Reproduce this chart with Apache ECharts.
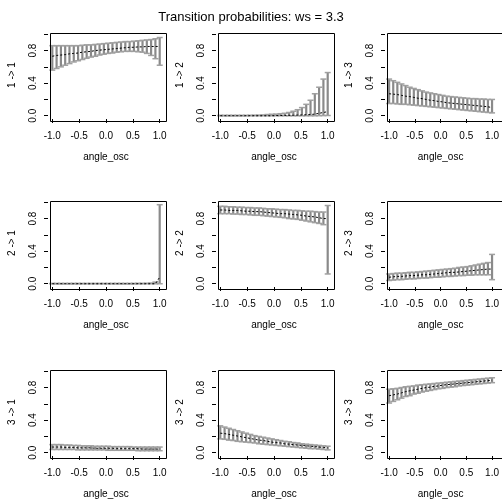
<!DOCTYPE html>
<html>
<head>
<meta charset="utf-8">
<script src="https://cdn.jsdelivr.net/npm/echarts@6/dist/echarts.min.js"></script>
<style>
html,body{margin:0;padding:0;background:#fff;}
#chart{width:502px;height:500px;}
</style>
</head>
<body>
<div id="chart"></div>
<script>
const title = 'Transition probabilities: ws = 3.3';
const xName = 'angle_osc';
const angle = [-1.00,-0.92,-0.84,-0.76,-0.68,-0.60,-0.52,-0.44,-0.36,-0.28,-0.20,-0.12,-0.04,0.04,0.12,0.20,0.28,0.36,0.44,0.52,0.60,0.68,0.76,0.84,0.92,1.00];
const xTicks = [-1.0,-0.5,0.0,0.5,1.0];
const yTicks = [0.0,0.2,0.4,0.6,0.8,1.0];
const yLabels = [0.0,0.4,0.8];

// 1 -> 1
const mean11 = [0.73,0.74,0.745,0.75,0.76,0.765,0.77,0.78,0.785,0.79,0.80,0.805,0.81,0.815,0.82,0.825,0.83,0.835,0.84,0.84,0.845,0.845,0.85,0.85,0.85,0.85];
const lo11 = [0.56,0.58,0.60,0.62,0.64,0.66,0.675,0.69,0.705,0.72,0.73,0.745,0.755,0.765,0.77,0.78,0.785,0.79,0.79,0.79,0.785,0.78,0.765,0.74,0.70,0.62];
const hi11 = [0.86,0.86,0.86,0.86,0.86,0.86,0.86,0.865,0.87,0.87,0.875,0.88,0.885,0.89,0.895,0.90,0.905,0.91,0.91,0.915,0.92,0.925,0.93,0.935,0.945,0.96];
// 1 -> 2
const mean12 = [0,0,0,0,0,0,0,0,0,0,0,0,0,0.002,0.003,0.004,0.005,0.006,0.008,0.01,0.012,0.015,0.02,0.03,0.04,0.05];
const lo12 = [0,0,0,0,0,0,0,0,0,0,0,0,0,0,0,0,0,0,0,0,0,0,0,0.001,0.002,0.003];
const hi12 = [0.005,0.005,0.005,0.005,0.005,0.005,0.005,0.006,0.007,0.008,0.01,0.015,0.018,0.02,0.025,0.03,0.04,0.055,0.074,0.10,0.14,0.19,0.27,0.35,0.45,0.53];
// 1 -> 3
const mean13 = [0.27,0.265,0.26,0.25,0.24,0.235,0.225,0.215,0.21,0.20,0.19,0.185,0.175,0.17,0.16,0.155,0.15,0.145,0.14,0.135,0.13,0.125,0.12,0.115,0.11,0.10];
const lo13 = [0.15,0.15,0.145,0.14,0.14,0.135,0.13,0.125,0.12,0.115,0.11,0.105,0.10,0.095,0.09,0.085,0.08,0.075,0.07,0.065,0.06,0.055,0.05,0.045,0.04,0.035];
const hi13 = [0.45,0.43,0.41,0.39,0.37,0.35,0.335,0.32,0.305,0.29,0.28,0.27,0.26,0.25,0.24,0.235,0.23,0.225,0.22,0.215,0.21,0.21,0.205,0.205,0.20,0.20];
// 2 -> 1
const mean21 = [0,0,0,0,0,0,0,0,0,0,0,0,0,0,0,0,0,0,0,0,0,0,0,0,0,0.08];
const lo21 = [0,0,0,0,0,0,0,0,0,0,0,0,0,0,0,0,0,0,0,0,0,0,0,0,0,0];
const hi21 = [0.004,0.004,0.004,0.004,0.004,0.004,0.004,0.004,0.004,0.004,0.004,0.004,0.004,0.004,0.004,0.004,0.004,0.004,0.004,0.004,0.005,0.005,0.006,0.008,0.02,0.97];
// 2 -> 2
const mean22 = [0.905,0.905,0.90,0.90,0.90,0.895,0.89,0.89,0.885,0.885,0.88,0.875,0.87,0.865,0.86,0.86,0.855,0.85,0.845,0.84,0.83,0.825,0.82,0.81,0.80,0.80];
const lo22 = [0.86,0.86,0.86,0.855,0.855,0.85,0.85,0.845,0.84,0.84,0.835,0.83,0.825,0.82,0.815,0.81,0.80,0.795,0.79,0.78,0.77,0.76,0.75,0.74,0.725,0.12];
const hi22 = [0.95,0.95,0.945,0.945,0.94,0.94,0.935,0.935,0.93,0.93,0.925,0.92,0.92,0.915,0.91,0.91,0.905,0.90,0.90,0.895,0.89,0.89,0.885,0.88,0.88,0.96];
// 2 -> 3
const mean23 = [0.08,0.085,0.09,0.09,0.095,0.10,0.10,0.105,0.11,0.11,0.115,0.12,0.125,0.13,0.135,0.14,0.14,0.145,0.15,0.155,0.16,0.165,0.17,0.175,0.18,0.18];
const lo23 = [0.04,0.045,0.05,0.05,0.055,0.06,0.06,0.065,0.07,0.07,0.075,0.08,0.08,0.085,0.09,0.09,0.095,0.10,0.10,0.105,0.105,0.11,0.11,0.11,0.11,0.05];
const hi23 = [0.12,0.125,0.13,0.13,0.135,0.14,0.14,0.145,0.15,0.155,0.16,0.165,0.17,0.175,0.18,0.185,0.19,0.20,0.205,0.21,0.22,0.23,0.24,0.25,0.26,0.36];
// 3 -> 1
const mean31 = [0.07,0.07,0.07,0.065,0.065,0.065,0.06,0.06,0.06,0.06,0.055,0.055,0.055,0.055,0.055,0.05,0.05,0.05,0.05,0.05,0.05,0.045,0.045,0.045,0.045,0.045];
const lo31 = [0.04,0.04,0.04,0.04,0.04,0.04,0.035,0.035,0.035,0.035,0.035,0.035,0.035,0.03,0.03,0.03,0.03,0.03,0.03,0.03,0.025,0.025,0.025,0.025,0.025,0.025];
const hi31 = [0.10,0.10,0.10,0.095,0.095,0.09,0.09,0.085,0.085,0.085,0.08,0.08,0.08,0.08,0.075,0.075,0.075,0.075,0.075,0.07,0.07,0.07,0.07,0.07,0.07,0.07];
// 3 -> 2
const mean32 = [0.24,0.235,0.225,0.215,0.205,0.195,0.185,0.175,0.165,0.155,0.15,0.14,0.13,0.125,0.12,0.11,0.105,0.10,0.095,0.09,0.085,0.08,0.075,0.07,0.065,0.06];
const lo32 = [0.17,0.165,0.155,0.15,0.14,0.135,0.13,0.125,0.12,0.11,0.105,0.10,0.095,0.09,0.085,0.08,0.075,0.07,0.065,0.06,0.055,0.05,0.05,0.045,0.04,0.035];
const hi32 = [0.33,0.315,0.30,0.285,0.27,0.255,0.24,0.225,0.21,0.20,0.19,0.18,0.17,0.16,0.15,0.14,0.135,0.125,0.12,0.11,0.105,0.10,0.095,0.09,0.085,0.08];
// 3 -> 3
const mean33 = [0.70,0.71,0.72,0.735,0.75,0.76,0.77,0.78,0.79,0.80,0.805,0.815,0.82,0.83,0.835,0.84,0.845,0.85,0.855,0.86,0.865,0.87,0.875,0.88,0.885,0.89];
const lo33 = [0.61,0.63,0.65,0.67,0.69,0.70,0.72,0.73,0.745,0.755,0.765,0.775,0.785,0.79,0.80,0.805,0.81,0.82,0.825,0.83,0.835,0.84,0.845,0.85,0.855,0.86];
const hi33 = [0.78,0.785,0.79,0.80,0.81,0.815,0.82,0.83,0.835,0.84,0.845,0.85,0.855,0.86,0.865,0.87,0.875,0.88,0.885,0.89,0.895,0.90,0.905,0.91,0.915,0.92];

const panels = [
  {name:'1 -> 1', mean:mean11, lo:lo11, hi:hi11},
  {name:'1 -> 2', mean:mean12, lo:lo12, hi:hi12},
  {name:'1 -> 3', mean:mean13, lo:lo13, hi:hi13},
  {name:'2 -> 1', mean:mean21, lo:lo21, hi:hi21},
  {name:'2 -> 2', mean:mean22, lo:lo22, hi:hi22},
  {name:'2 -> 3', mean:mean23, lo:lo23, hi:hi23},
  {name:'3 -> 1', mean:mean31, lo:lo31, hi:hi31},
  {name:'3 -> 2', mean:mean32, lo:lo32, hi:hi32},
  {name:'3 -> 3', mean:mean33, lo:lo33, hi:hi33}
];

const FONT = 'Liberation Sans, Arial, Helvetica, sans-serif';
const colLeft = [48, 216, 385];
const rowTop = [31, 199, 368];
const boxW = 116, boxH = 88;
const barColor = '#8a8a8a';
const capColor = '#a0a0a0';

function renderBar(params, api) {
  const x = api.value(0), lo = api.value(1), hi = api.value(2);
  const a = api.coord([x, lo]);
  const b = api.coord([x, hi]);
  const hw = 3;
  return {
    type: 'group',
    children: [
      {type:'line', shape:{x1:a[0], y1:a[1], x2:b[0], y2:b[1]}, style:{stroke:barColor, lineWidth:2.2}},
      {type:'line', shape:{x1:a[0]-hw, y1:a[1], x2:a[0]+hw, y2:a[1]}, style:{stroke:capColor, lineWidth:1.5}},
      {type:'line', shape:{x1:b[0]-hw, y1:b[1], x2:b[0]+hw, y2:b[1]}, style:{stroke:capColor, lineWidth:1.5}}
    ]
  };
}

const grid = [], xAxis = [], yAxis = [], series = [], graphic = [];
panels.forEach((p, i) => {
  const r = Math.floor(i / 3), c = i % 3;
  grid.push({left: colLeft[c], top: rowTop[r], width: boxW, height: boxH, show: false, containLabel: false});
  graphic.push({type: 'rect', left: colLeft[c], top: rowTop[r], z: 10, silent: true,
                shape: {x: 0, y: 0, width: boxW, height: boxH},
                style: {fill: null, stroke: '#000', lineWidth: 1}});
  xAxis.push({
    type: 'value', gridIndex: i, min: -1.08, max: 1.08, position: 'bottom',
    axisLine: {show: false, onZero: false},
    axisTick: {show: true, length: 4, lineStyle: {color: '#000', width: 1}, customValues: xTicks},
    axisLabel: {show: true, customValues: xTicks, formatter: v => v.toFixed(1), fontSize: 10,
                color: '#000', fontFamily: FONT, margin: 12},
    splitLine: {show: false},
    name: xName, nameLocation: 'middle', nameGap: 33,
    nameTextStyle: {fontSize: 10, color: '#000', fontFamily: FONT}
  });
  yAxis.push({
    type: 'value', gridIndex: i, min: -0.04, max: 1.04, position: 'left',
    axisLine: {show: false, onZero: false},
    axisTick: {show: true, length: 4, lineStyle: {color: '#000', width: 1}, customValues: yTicks},
    axisLabel: {show: true, customValues: yLabels, formatter: v => v.toFixed(1), fontSize: 10,
                color: '#000', fontFamily: FONT, rotate: 90, margin: 10},
    splitLine: {show: false},
    name: p.name, nameLocation: 'middle', nameGap: 31, nameRotate: 90,
    nameTextStyle: {fontSize: 10, color: '#000', fontFamily: FONT}
  });
  series.push({
    type: 'custom', xAxisIndex: i, yAxisIndex: i,
    renderItem: renderBar,
    encode: {x: 0, y: [1, 2]},
    data: angle.map((x, k) => [x, p.lo[k], p.hi[k]]),
    z: 2, silent: true
  });
  series.push({
    type: 'line', xAxisIndex: i, yAxisIndex: i,
    data: angle.map((x, k) => [x, p.mean[k]]),
    symbol: 'none', lineStyle: {color: '#000', width: 1, type: [2, 2]},
    z: 3, silent: true
  });
});

const chart = echarts.init(document.getElementById('chart'), null, {renderer: 'canvas'});
chart.setOption({
  animation: false,
  backgroundColor: '#fff',
  title: {text: title, left: 'center', top: 6,
          textStyle: {fontSize: 13, fontWeight: 'normal', color: '#000', fontFamily: FONT}},
  grid, xAxis, yAxis, series, graphic
});
</script>
</body>
</html>
